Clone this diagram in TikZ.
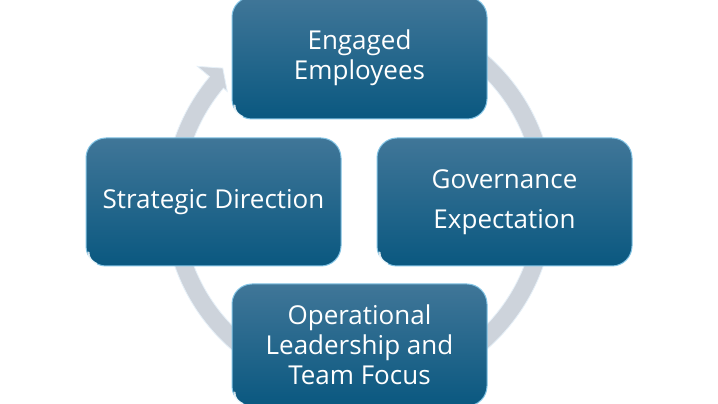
\documentclass[tikz,border=0pt]{standalone}
\usepackage{fontspec}
\setmainfont{Open Sans}
\definecolor{ringc}{RGB}{205,211,219}
\definecolor{ringedge}{RGB}{230,240,248}
\definecolor{boxtop}{RGB}{64,118,152}
\definecolor{boxbot}{RGB}{10,88,128}
\definecolor{boxedge}{RGB}{130,195,228}
\begin{document}
\begin{tikzpicture}[x=1pt,y=1pt,
  cyclebox/.style={rectangle, rounded corners=20pt, minimum width=255pt, minimum height=128pt,
    inner sep=0pt, top color=boxtop, bottom color=boxbot, draw=boxedge, line width=1pt,
    text=white, align=center, font=\fontsize{26}{30}\selectfont},
  glint/.style={white, line width=2pt, opacity=0.8, line cap=round},
  ringstyle/.style={fill=ringc, draw=ringedge, line width=0.8pt}]
\useasboundingbox (0,0) rectangle (718,404);
\fill[white] (0,0) rectangle (718,404);
% ring with arrowhead
\coordinate (c) at (359,202);
\begin{scope}[shift={(c)}]
\path[ringstyle] (100:195) arc[start angle=100, end angle=-220, radius=195]
   -- (140:211) -- (135.5:191) -- (140:172) -- (140:177)
   arc[start angle=-220, end angle=100, radius=177] -- cycle;
\end{scope}
% boxes
\node[cyclebox, minimum height=122pt] (top) at (359.5,346) {Engaged\\Employees};
\node[cyclebox] (left) at (213.5,202) {Strategic Direction};
\node[cyclebox] (right) at (504.5,202) {Governance\\[10pt]Expectation};
\node[cyclebox, minimum height=122pt] (bottom) at (359.5,59) {Operational\\Leadership and\\Team Focus};
% glints at lower-left corners
\foreach \b in {top,left,right,bottom}{
  \draw[glint] ([xshift=3pt,yshift=14pt]\b.south west) arc[start angle=180, end angle=250, radius=12pt];
}
\end{tikzpicture}
\end{document}
